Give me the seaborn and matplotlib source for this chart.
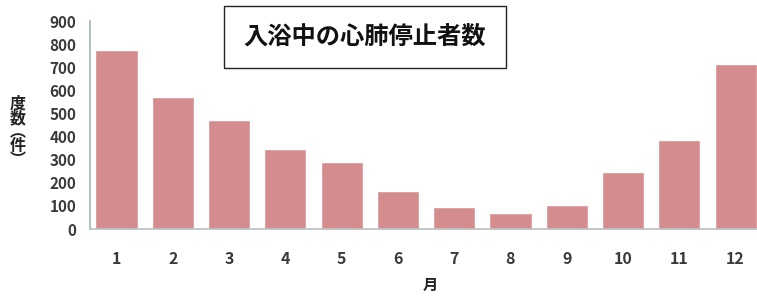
import matplotlib
matplotlib.use("Agg")
import matplotlib.pyplot as plt
import seaborn as sns
import pandas as pd

# Data
months = ["1", "2", "3", "4", "5", "6", "7", "8", "9", "10", "11", "12"]
counts = [775, 570, 470, 345, 290, 165, 95, 70, 105, 245, 385, 715]
yticks = [0, 100, 200, 300, 400, 500, 600, 700, 800, 900]
title = "入浴中の心肺停止者数"

df = pd.DataFrame({"month": months, "count": counts})

sns.set_theme(style="white")
plt.rcParams["font.family"] = ["Noto Sans CJK JP", "DejaVu Sans"]

fig = plt.figure(figsize=(7.57, 2.96), dpi=100)
ax = fig.add_axes([0.119, 0.226, 0.881, 0.703])

sns.barplot(data=df, x="month", y="count", color="#d48c8e", saturation=1,
            width=0.75, ax=ax)

ax.set_ylim(0, 900)
ax.set_xlim(-0.47, 11.38)
ax.set_yticks(yticks)
ax.set_yticklabels([str(t) for t in yticks], fontsize=11, fontweight="bold", color="#3a3a3a")
ax.set_xticklabels(months, fontsize=11.5, fontweight="bold", color="#3a3a3a")
ax.tick_params(axis="y", length=0, pad=10)
ax.tick_params(axis="x", length=0, pad=16)
ax.set_xlabel("")
ax.set_ylabel("")

for side in ["top", "right"]:
    ax.spines[side].set_visible(False)
ax.spines["left"].set_color("#9fb3b8")
ax.spines["bottom"].set_color("#b8c0c2")
ax.spines["left"].set_linewidth(1.2)
ax.spines["bottom"].set_linewidth(1.2)

# y label stacked vertically, x label below
fig.text(18 / 757, 1 - 132 / 296, "度\n数\n︵\n件\n︶", ha="center", va="center",
         fontsize=11.5, fontweight="bold", linespacing=0.85, color="#222222")
fig.text(430 / 757, 1 - 285 / 296, "月", ha="center", va="center",
         fontsize=11, fontweight="bold", color="#222222")

# title in a box
fig.text(365 / 757, 1 - 37 / 296, title, ha="center", va="center",
         fontsize=17.5, fontweight="bold", color="#111111",
         bbox=dict(boxstyle="square,pad=0.8", facecolor="white",
                   edgecolor="#222222", linewidth=1.0))

fig.savefig("out.png", dpi=100)
